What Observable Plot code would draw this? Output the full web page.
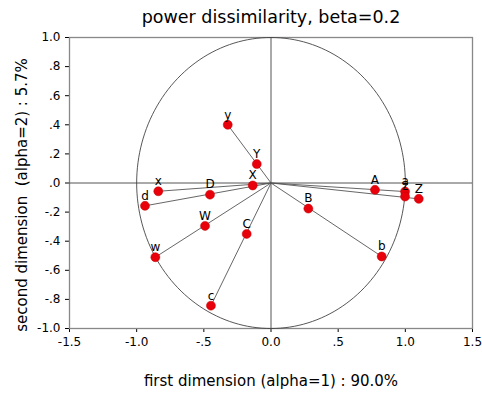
<!DOCTYPE html>
<html>
<head>
<meta charset="utf-8">
<script src="https://cdn.jsdelivr.net/npm/d3@7"></script>
<script src="https://cdn.jsdelivr.net/npm/@observablehq/plot@0.6"></script>
<style>
  html, body { margin: 0; padding: 0; background: #fff; }
  svg { font-family: "DejaVu Sans", Verdana, sans-serif; }
</style>
</head>
<body>
<div id="chart"></div>
<script>
const titleText = "power dissimilarity, beta=0.2";
const xLabelText = "first dimension (alpha=1) : 90.0%";
const yLabelText = "second dimension \u00a0(alpha=2) : 5.7%";

const pointLabels = ["y", "Y", "X", "x", "D", "d", "W", "C", "w", "c", "B", "A", "a", "z", "Z", "b"];
const pointX = [-0.322, -0.106, -0.136, -0.839, -0.454, -0.938, -0.491, -0.181, -0.861, -0.447, 0.278, 0.774, 0.998, 0.998, 1.100, 0.824];
const pointY = [0.400, 0.130, -0.017, -0.057, -0.080, -0.157, -0.295, -0.350, -0.510, -0.843, -0.176, -0.047, -0.059, -0.093, -0.109, -0.505];

// vector lines from origin to these points
const lineEnds = ["y", "x", "d", "w", "c", "b", "a", "Z"];

const xTicks = [-1.5, -1, -0.5, 0, 0.5, 1, 1.5];
const xTickLabels = ["-1.5", "-1.0", "-.5", "0.0", ".5", "1.0", "1.5"];
const yTicks = [1, 0.8, 0.6, 0.4, 0.2, 0, -0.2, -0.4, -0.6, -0.8, -1];
const yTickLabels = ["1.0", ".8", ".6", ".4", ".2", ".0", "-.2", "-.4", "-.6", "-.8", "-1.0"];

const points = pointLabels.map((label, i) => ({label, x: pointX[i], y: pointY[i]}));
const vectors = points.filter(p => lineEnds.includes(p.label));
// unit circle (reference guide)
const circle = d3.range(0, 361, 2).map(a => ({x: Math.cos(a * Math.PI / 180), y: Math.sin(a * Math.PI / 180)}));

const chart = Plot.plot({
  width: 482,
  height: 394,
  marginLeft: 69,
  marginRight: 10,
  marginTop: 37,
  marginBottom: 66,
  style: {fontFamily: "DejaVu Sans, Verdana, sans-serif", fontSize: "12px", color: "#000", background: "#fff"},
  x: {domain: [-1.5, 1.5], ticks: xTicks, tickFormat: d => xTickLabels[xTicks.indexOf(d)], tickSize: 4, label: null},
  y: {domain: [-1, 1], ticks: yTicks, tickFormat: d => yTickLabels[yTicks.indexOf(d)], tickSize: 4, label: null},
  marks: [
    Plot.frame({stroke: "#888", strokeWidth: 1.3}),
    Plot.ruleX([0], {stroke: "#555", strokeWidth: 1}),
    Plot.ruleY([0], {stroke: "#555", strokeWidth: 1}),
    Plot.line(circle, {x: "x", y: "y", stroke: "#444", strokeWidth: 0.9}),
    Plot.link(vectors, {x1: () => 0, y1: () => 0, x2: "x", y2: "y", stroke: "#555", strokeWidth: 0.9}),
    Plot.dot(points, {x: "x", y: "y", r: 4.5, fill: "#e8000b", stroke: "#c00000", strokeWidth: 0.5}),
    Plot.text(points, {x: "x", y: "y", text: "label", dy: -10, fontSize: 12, fill: "#000"}),
    Plot.text([titleText], {frameAnchor: "top", textAnchor: "middle", lineAnchor: "middle", dy: -20, fontSize: 17.5, fill: "#000"}),
    Plot.text([xLabelText], {frameAnchor: "bottom", textAnchor: "middle", lineAnchor: "middle", dy: 53, fontSize: 15, fill: "#000"}),
    Plot.text([yLabelText], {frameAnchor: "left", textAnchor: "middle", lineAnchor: "middle", rotate: -90, dx: -47, dy: 12, fontSize: 15, fill: "#000"})
  ]
});
document.getElementById("chart").appendChild(chart);
</script>
</body>
</html>
